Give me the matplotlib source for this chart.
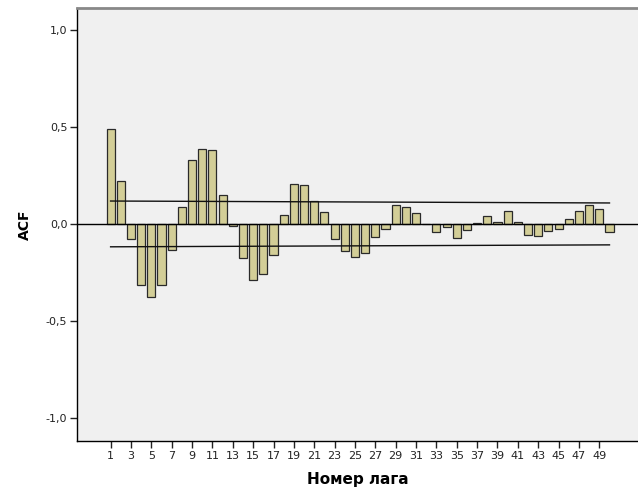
import matplotlib
matplotlib.use("Agg")
import matplotlib.pyplot as plt
import numpy as np

lags = list(range(1, 51))
acf = [0.488, 0.222, -0.079, -0.316, -0.375, -0.316, -0.137, 0.086, 0.328, 0.388,
       0.380, 0.151, -0.010, -0.174, -0.289, -0.256, -0.160, 0.046, 0.208, 0.201,
       0.117, 0.060, -0.077, -0.141, -0.168, -0.148, -0.070, -0.024, 0.098, 0.088,
       0.058, 0.002, -0.043, -0.015, -0.074, -0.031, 0.005, 0.041, 0.012, 0.069,
       0.012, -0.055, -0.064, -0.036, -0.024, 0.024, 0.065, 0.100, 0.076, -0.041]
conf_lags = [1, 50]
conf_upper = [0.118, 0.108]
conf_lower = [-0.118, -0.108]
x_tick_labels = [str(k) for k in range(1, 50, 2)]
y_ticks = [-1.0, -0.5, 0.0, 0.5, 1.0]
y_tick_labels = ["-1,0", "-0,5", "0,0", "0,5", "1,0"]

fig = plt.figure(figsize=(6.38, 4.92), dpi=100, facecolor="white")
ax = fig.add_axes([77/638, 1 - 441/492, 1 - 77/638, (441 - 8)/492])
ax.set_facecolor("#F0F0F0")

ax.bar(lags, acf, width=0.8, color="#D3CE97", edgecolor="#2a2a2a", linewidth=0.9, zorder=3)
ax.axhline(0, color="black", linewidth=1.0, zorder=4)
ax.plot(conf_lags, conf_upper, color="#111111", linewidth=1.0, zorder=5)
ax.plot(conf_lags, conf_lower, color="#111111", linewidth=1.0, zorder=5)

ax.set_xlim(-2.3, 52.8)
ax.set_ylim(-1.119, 1.113)

ax.set_xticks(list(range(1, 50, 2)))
ax.set_xticklabels(x_tick_labels, fontsize=8, color="#222222", family="DejaVu Sans")
ax.set_yticks(y_ticks)
ax.set_yticklabels(y_tick_labels, fontsize=8, color="#222222", family="DejaVu Sans")
ax.tick_params(axis="both", direction="out", length=5, width=1, color="#222222", pad=2)

for s in ["left", "bottom"]:
    ax.spines[s].set_color("black")
    ax.spines[s].set_linewidth(1.0)
ax.spines["top"].set_color("#888888")
ax.spines["top"].set_linewidth(2.0)
ax.spines["right"].set_visible(False)

ax.set_xlabel("Номер лага", fontsize=11, fontweight="bold", family="DejaVu Sans", labelpad=8)
ax.set_ylabel("ACF", fontsize=10, fontweight="bold", family="DejaVu Sans", labelpad=10)

fig.savefig("out.png", dpi=100, facecolor="white")
